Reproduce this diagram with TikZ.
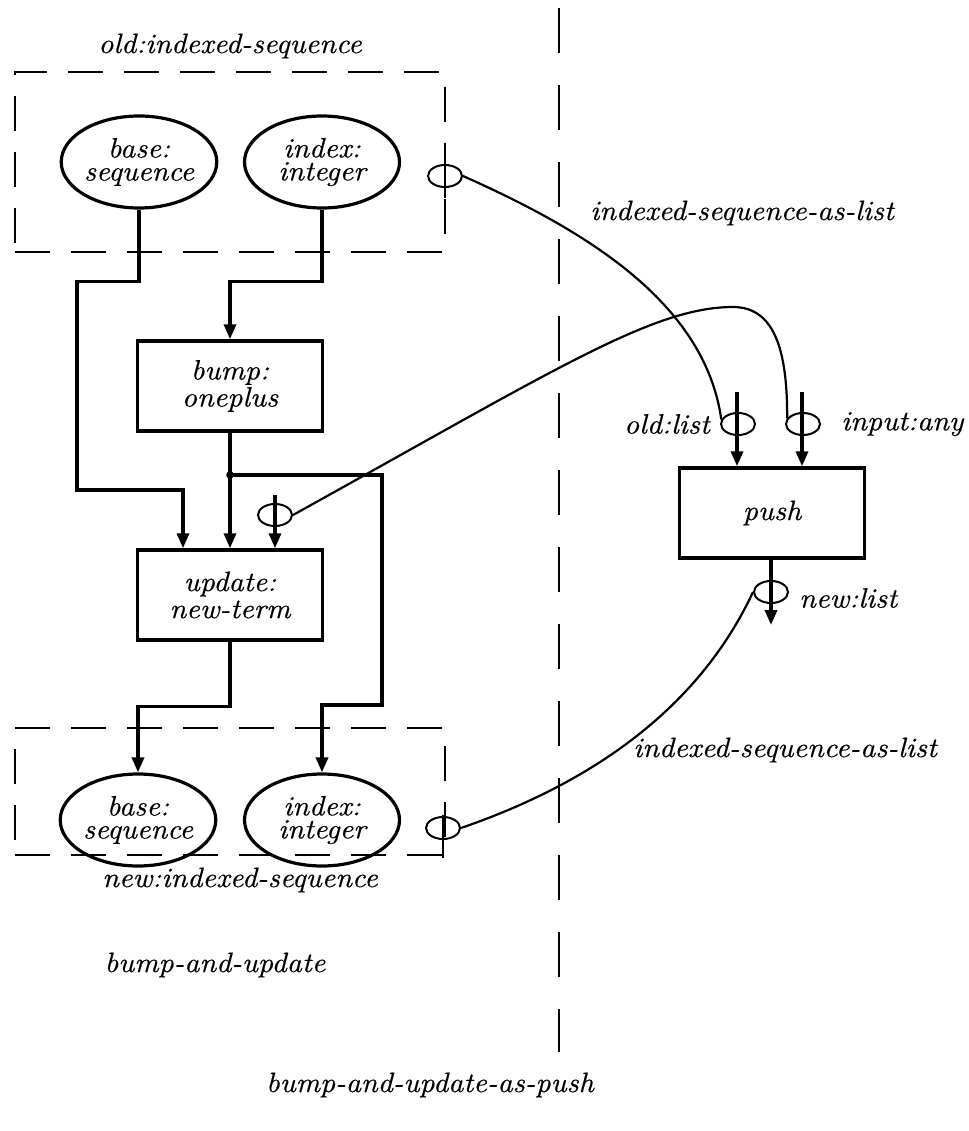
\documentclass[tikz,border=0pt]{standalone}
\usepackage{fontspec}
\setmainfont{lmroman10-regular.otf}[ItalicFont=lmroman10-italic.otf, ItalicFeatures={FakeBold=0.4, FakeStretch=1.06}]
\usepackage{tikz}
\usetikzlibrary{shapes.geometric,arrows.meta,positioning,calc}

\begin{document}
\begin{tikzpicture}[x=1pt, y=1pt,
    ebox/.style={ellipse, draw, line width=3.2pt, minimum width=155pt, minimum height=92pt,
                 inner sep=0pt, align=center, font=\fontsize{28}{23}\selectfont\itshape},
    fbox/.style={rectangle, draw, line width=3.5pt, minimum width=185pt, minimum height=90pt,
                 align=center, font=\fontsize{28}{27}\selectfont\itshape},
    dbox/.style={rectangle, draw, line width=2.4pt, dash pattern=on 35pt off 21pt, inner sep=0pt},
    port/.style={ellipse, draw, line width=2pt, minimum width=34pt, minimum height=22pt, inner sep=0pt},
    lbl/.style={font=\fontsize{28}{30}\selectfont\itshape, inner sep=2pt},
    flow/.style={-{Triangle[length=15pt,width=12pt]}, line width=3.4pt},
    stub/.style={line width=2.6pt},
    wire/.style={line width=2.2pt},
    divider/.style={line width=2.5pt, dash pattern=on 45pt off 32pt},
]
    \useasboundingbox (0,0) rectangle (968,-1131);
    % left half: bump-and-update
    \node[dbox, minimum width=430pt, minimum height=180pt] (oldseq) at (230,-162) {};
    \node[dbox, minimum width=430pt, minimum height=127pt] (newseq) at (230,-791.5) {};
    \node[ebox] (base1) at (139,-162) {base:\\sequence};
    \node[ebox] (idx1)  at (322,-162) {index:\\integer};
    \node[fbox] (bump)  at (230,-386) {bump:\\oneplus};
    \node[fbox] (upd)   at (230,-595) {update:\\new-term};
    \node[ebox] (base2) at (138,-820) {base:\\sequence};
    \node[ebox] (idx2)  at (322,-820) {index:\\integer};
    \node[lbl] (oldlbl) at (230,-46) {old:indexed-sequence};
    \node[lbl] (newlbl) at (240,-880) {new:indexed-sequence};
    \node[lbl] (leftlbl) at (215,-965) {bump-and-update};
    % data flow
    \coordinate (split) at (230,-475);
    \draw[flow] (base1.south) -- ++(0,-72) -| (77,-490) -| ([xshift=-47pt]upd.north);
    \draw[flow] (idx1.south) -- ++(0,-72) -| (bump.north);
    \draw[flow] (bump.south) -- (upd.north);
    \fill (split) circle (3.8pt);
    \draw[flow] (split) -| (382,-705) -| (idx2.north);
    \draw[flow] (upd.south) -- ++(0,-65) -| (base2.north);
    % ports
    \node[port] (oport) at (445,-176) {};
    \node[port] (nport) at (443,-828) {};
    \node[port] (uport) at (275,-515) {};
    \draw[stub] ([yshift=14pt]oport.center) -- ([yshift=-22pt]oport.center);
    \draw[stub] ([yshift=13pt]nport.center) -- ([yshift=-30pt]nport.center);
    \coordinate (uin) at (275,-495);
    \draw[flow] (uin) -- (uin |- upd.north);
    % divider
    \coordinate (dtop) at (559,-8);
    \coordinate (dbot) at (559,-1052);
    \draw[divider] (dtop) -- (dbot);
    % right half: push
    \node[fbox] (push) at (772,-513) {push};
    \node[port] (lport) at (738,-424) {};
    \node[port] (aport) at (803,-424) {};
    \node[port] (pport) at (771,-592) {};
    \coordinate (lin) at (737,-392);
    \coordinate (ain) at (802,-392);
    \coordinate (pend) at (771,-625);
    \draw[flow] (lin) -- (lin |- push.north);
    \draw[flow] (ain) -- (ain |- push.north);
    \draw[flow] (pend |- push.south) -- (pend);
    \node[lbl, left=8pt of lport] (oldlist) {old:list};
    \node[lbl, right=18pt of aport] (inany) {input:any};
    \node[lbl, right=8pt of pport, yshift=-6pt] (newlist) {new:list};
    % mapping wires
    \coordinate (hump) at (733,-307);
    \draw[wire] (oport.east) .. controls +(-24:130) and +(98:120) .. (lport.165);
    \draw[wire] (uport.east) .. controls +(29:300) and +(180:80) .. (hump)
                .. controls +(0:45) and +(90:60) .. (aport.160);
    \draw[wire] (nport.east) .. controls +(19:150) and +(245:120) .. (pport.west);
    \node[lbl] (maplbl1) at (742,-213) {indexed-sequence-as-list};
    \node[lbl] (maplbl2) at (785,-750) {indexed-sequence-as-list};
    \node[lbl] (rightlbl) at (430,-1085) {bump-and-update-as-push};
\end{tikzpicture}
\end{document}
